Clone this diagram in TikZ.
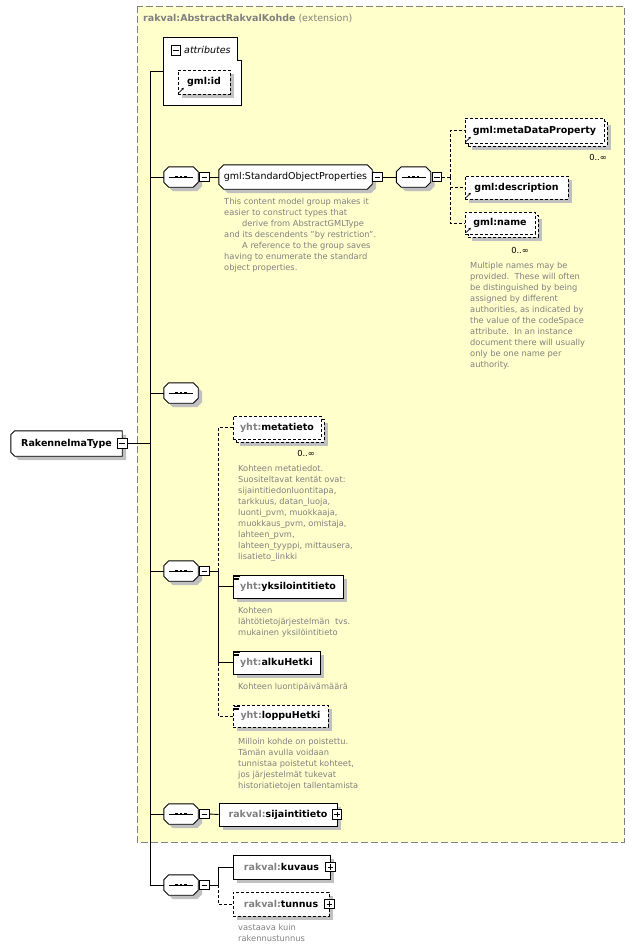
\documentclass[tikz,border=0pt]{standalone}
\usepackage{fontspec}
\setmainfont{DejaVu Sans}
\usetikzlibrary{shadows,arrows.meta}
\pgfdeclarelayer{bgzero}
\pgfdeclarelayer{background}
\pgfsetlayers{bgzero,background,main}
\definecolor{yel}{RGB}{255,255,204}
\definecolor{gtxt}{RGB}{128,128,128}
\definecolor{shd}{RGB}{192,192,192}
\definecolor{framec}{RGB}{128,128,128}
\newcommand\refarrow[1]{\draw[line width=0.7pt,-{Stealth[length=2.4pt,width=2.6pt]}] ([shift={(1.6pt,2pt)}]#1.south west) -- ++(4.6pt,4.6pt);}
\newcommand\simpicon[1]{\draw[line width=0.6pt] ([shift={(1.5pt,-1.6pt)}]#1.north west) -- ++(6pt,0pt) ([shift={(1.5pt,-3.3pt)}]#1.north west) -- ++(4.5pt,0pt) ([shift={(1.5pt,-5pt)}]#1.north west) -- ++(4.5pt,0pt);}
\newcommand\chamfpath[4]{([shift={(#2pt+#4pt,-#4pt)}]#1.north west) -- ([shift={(-#3pt+#4pt,-#4pt)}]#1.north east) -- ([shift={(#4pt,-#3pt-#4pt)}]#1.north east) -- ([shift={(#4pt,#3pt-#4pt)}]#1.south east) -- ([shift={(-#3pt+#4pt,-#4pt)}]#1.south east) -- ([shift={(#2pt+#4pt,-#4pt)}]#1.south west) -- ([shift={(#4pt,#2pt-#4pt)}]#1.south west) -- ([shift={(#4pt,-#2pt-#4pt)}]#1.north west) -- cycle}
\newcommand\chamfbox[3]{\begin{pgfonlayer}{background}\fill[shd] \chamfpath{#1}{#2}{#3}{4};\draw[fill=white,line width=0.9pt] \chamfpath{#1}{#2}{#3}{0};\end{pgfonlayer}}
\newcommand\seqsym[1]{\chamfbox{#1}{5}{5}\draw[line width=0.9pt] ([xshift=-12pt]#1.center) -- ([xshift=12pt]#1.center);\foreach \d in {-4.5,0,4.5}{\fill[black] ([xshift=\d pt]#1.center) +(-1.3pt,-1.4pt) rectangle +(1.3pt,1.4pt);}}
\tikzset{
  every node/.style={font=\fontsize{9.5}{11}\selectfont},
  shad/.style={drop shadow={shadow xshift=4pt,shadow yshift=-4pt,fill=shd,opacity=1}},
  base/.style={draw, fill=white, line width=0.9pt, inner sep=0pt, font=\fontsize{9.5}{11}\selectfont\bfseries},
  elem/.style={base, shad},
  opt/.style={dash pattern=on 3pt off 2pt},
  melem/.style={base, opt,
    drop shadow={shadow xshift=7pt,shadow yshift=-7pt,fill=shd,opacity=1},
    copy shadow={shadow xshift=3pt,shadow yshift=-3pt,draw=black,fill=white,line width=0.9pt,dash pattern=on 3pt off 2pt}},
  seqn/.style={minimum width=34pt, minimum height=20pt, inner sep=0pt},
  grp/.style={inner sep=0pt},
  btn/.style={draw, fill=white, line width=0.8pt, minimum size=9.5pt, inner sep=0pt},
  minus/.style={btn, path picture={\draw[black,line width=0.8pt] ([xshift=2pt]path picture bounding box.west) -- ([xshift=-2pt]path picture bounding box.east);}},
  plus/.style={btn, path picture={\draw[black,line width=0.8pt] ([xshift=2pt]path picture bounding box.west) -- ([xshift=-2pt]path picture bounding box.east) ([yshift=2pt]path picture bounding box.south) -- ([yshift=-2pt]path picture bounding box.north);}},
  dsc/.style={anchor=north west, align=left, inner sep=0pt, text=gtxt, font=\fontsize{8.3}{11}\selectfont},
  occ/.style={inner sep=0pt, font=\fontsize{8.3}{10}\selectfont},
  conn/.style={line width=0.9pt},
}
\begin{document}
\begin{tikzpicture}[x=1pt,y=-1pt]
\useasboundingbox (0,0) rectangle (635,950);
% extension area
\begin{pgfonlayer}{bgzero}
\draw[framec, dash pattern=on 7pt off 3pt, fill=yel, line width=0.9pt] (137,6) rectangle (624,842);
\end{pgfonlayer}
\node[anchor=west, text=gtxt, inner sep=0pt] (title) at (143,19) {\textbf{rakval:AbstractRakvalKohde} (extension)};

% main line
\coordinate (m0) at (150,72);
\coordinate (m7) at (150,885);
\draw[conn] (m0) -- (m7);

% attributes
\node[minimum width=77pt, minimum height=67pt, inner sep=0pt] (attr) at (202.5,71.5) {};
\draw[line width=0.9pt, fill=white] (attr.north west) -- ([xshift=-4pt]attr.north east) -- ([shift={(-4pt,-23pt)}]attr.north east) -- ([yshift=-23pt]attr.north east) -- (attr.south east) -- (attr.south west) -- cycle;
\node[minus] (attrm) at (176,50.5) {};
\node[anchor=west, inner sep=0pt, font=\fontsize{9.5}{11}\selectfont\itshape] (attrt) at (184,50) {attributes};
\node[elem, opt, minimum width=52pt, minimum height=24pt] (gid) at (204,82) {gml:id};
\refarrow{gid}
\draw[conn] (attr.west -| m0) -- (attr.west);

% StandardObjectProperties
\node[seqn] (seq1) at (181,177) {};
\seqsym{seq1}
\node[minus, anchor=west] (s1m) at ([xshift=1pt]seq1.east) {};
\node[grp, minimum width=153pt, minimum height=24pt] (sop) at (295.5,177) {gml:StandardObjectProperties};
\chamfbox{sop}{5}{5}
\node[minus, anchor=west] (sopm) at (sop.east) {};
\node[seqn] (seq2) at (413.5,177) {};
\seqsym{seq2}
\node[minus, anchor=west] (s2m) at ([xshift=1pt]seq2.east) {};
\draw[conn] (seq1.west -| m0) -- (seq1.west);
\draw[conn] (s1m.east) -- (sop.west);
\draw[conn] (sopm.east) -- (seq2.west);
\node[dsc] (dsop) at (224,198) {This content model group makes it\\easier to construct types that\\\hspace*{18pt}derive from AbstractGMLType\\and its descendents "by restriction".\\\hspace*{18pt}A reference to the group saves\\having to enumerate the standard\\object properties.};

\node[melem, minimum width=139pt, minimum height=25pt] (mdp) at (534.5,130.5) {gml:metaDataProperty};
\refarrow{mdp}
\node[occ] (mdpo) at (598,157) {0..∞};
\node[elem, opt, minimum width=103pt, minimum height=23pt] (gdesc) at (516.5,187.5) {gml:description};
\refarrow{gdesc}
\node[melem, minimum width=70pt, minimum height=22pt] (gname) at (500,223) {gml:name};
\refarrow{gname}
\node[occ] (gnameo) at (520,250) {0..∞};
\node[dsc] (dname) at (470,262) {Multiple names may be\\provided.\ \ These will often\\be distinguished by being\\assigned by different\\authorities, as indicated by\\the value of the codeSpace\\attribute.\ \ In an instance\\document there will usually\\only be one name per\\authority.};
\coordinate (b2) at (450,177);
\draw[conn, opt] (s2m.east) -- (b2);
\draw[conn, opt] (b2) |- (mdp.west);
\draw[conn, opt] (b2) |- (gdesc.west);
\draw[conn, opt] (b2) |- (gname.west);

% empty sequence
\node[seqn] (seq3) at (181,393) {};
\seqsym{seq3}
\draw[conn] (seq3.west -| m0) -- (seq3.west);

% type
\node[grp, minimum width=111pt, minimum height=25pt, font=\fontsize{9.5}{11}\selectfont\bfseries] (rt) at (66.5,443.5) {RakennelmaType\hspace{10pt}};
\chamfbox{rt}{4}{0}
\node[minus] (rtm) at (rt.east) {};
\draw[conn] (rtm.east) -- (rtm.east -| m0);

% yht sequence
\node[melem, minimum width=88pt, minimum height=23pt] (meta) at (277,427.5) {\textcolor{gtxt}{yht:}metatieto};
\node[occ] (metao) at (306,453) {0..∞};
\node[dsc] (dmeta) at (238,465) {Kohteen metatiedot.\\Suositeltavat kentät ovat:\\sijaintitiedonluontitapa,\\tarkkuus, datan\_luoja,\\luonti\_pvm, muokkaaja,\\muokkaus\_pvm, omistaja,\\lahteen\_pvm,\\lahteen\_tyyppi, mittausera,\\lisatieto\_linkki};
\node[seqn] (seq4) at (181,571) {};
\seqsym{seq4}
\node[minus, anchor=west] (s4m) at ([xshift=1pt]seq4.east) {};
\node[elem, minimum width=110pt, minimum height=23pt] (yks) at (288,586.5) {\textcolor{gtxt}{yht:}yksilointitieto};
\simpicon{yks}
\node[dsc] (dyks) at (238,607) {Kohteen\\lähtötietojärjestelmän\ \ tvs.\\mukainen yksilöintitieto};
\node[elem, minimum width=87pt, minimum height=23pt] (alku) at (276.5,662.5) {\textcolor{gtxt}{yht:}alkuHetki};
\simpicon{alku}
\node[dsc] (dalku) at (238,683) {Kohteen luontipäivämäärä};
\node[elem, opt, minimum width=95pt, minimum height=22pt] (loppu) at (280.5,716) {\textcolor{gtxt}{yht:}loppuHetki};
\simpicon{loppu}
\node[dsc] (dloppu) at (238,738) {Milloin kohde on poistettu.\\Tämän avulla voidaan\\tunnistaa poistetut kohteet,\\jos järjestelmät tukevat\\historiatietojen tallentamista};
\coordinate (b4) at (218,571);
\draw[conn] (seq4.west -| m0) -- (seq4.west);
\draw[conn] (s4m.east) -- (b4);
\draw[conn, opt] (b4) |- (meta.west);
\draw[conn] (b4) |- (yks.west);
\draw[conn] (b4) |- (alku.west);
\draw[conn, opt] (alku.west -| b4) |- (loppu.west);

% sijaintitieto
\node[seqn] (seq5) at (181,814) {};
\seqsym{seq5}
\node[minus, anchor=west] (s5m) at ([xshift=1pt]seq5.east) {};
\node[elem, minimum width=118pt, minimum height=23pt] (sij) at (278,814.5) {\textcolor{gtxt}{rakval:}sijaintitieto\hspace{3pt}};
\node[plus] (sijp) at ([xshift=-0.5pt]sij.east) {};
\draw[conn] (seq5.west -| m0) -- (seq5.west);
\draw[conn] (s5m.east) -- (sij.west);

% own sequence
\node[seqn] (seq6) at (181,885) {};
\seqsym{seq6}
\node[minus, anchor=west] (s6m) at ([xshift=1pt]seq6.east) {};
\node[elem, minimum width=97pt, minimum height=24pt] (kuv) at (281.5,867) {\textcolor{gtxt}{rakval:}kuvaus\hspace{3pt}};
\node[plus] (kuvp) at (kuv.east) {};
\node[elem, opt, minimum width=96pt, minimum height=24pt] (tun) at (281,904) {\textcolor{gtxt}{rakval:}tunnus\hspace{3pt}};
\node[plus] (tunp) at (tun.east) {};
\node[dsc] (dtun) at (238,924) {vastaava kuin\\rakennustunnus};
\coordinate (b6) at (218,885);
\draw[conn] (m7) -- (seq6.west);
\draw[conn] (s6m.east) -- (b6);
\draw[conn] (b6) |- (kuv.west);
\draw[conn, opt] (b6) |- (tun.west);
\end{tikzpicture}
\end{document}
